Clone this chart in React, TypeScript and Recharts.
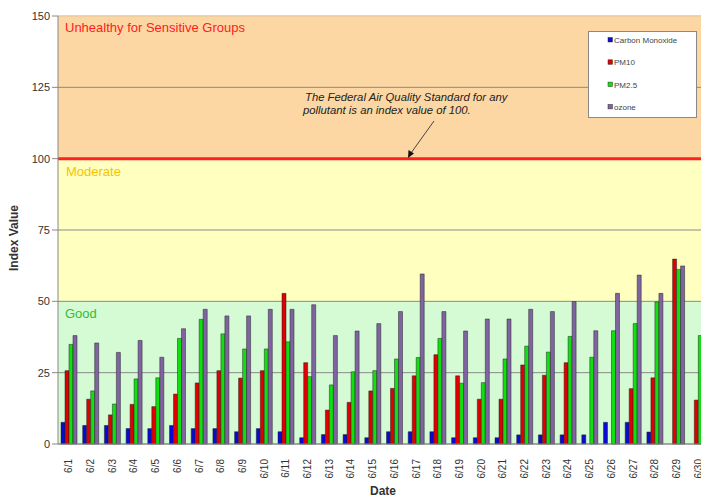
import React from 'react';
import { BarChart, Bar, XAxis, YAxis, ReferenceArea, ReferenceLine, CartesianGrid, Label } from 'recharts';

const dates = ['6/1','6/2','6/3','6/4','6/5','6/6','6/7','6/8','6/9','6/10','6/11','6/12','6/13','6/14','6/15','6/16','6/17','6/18','6/19','6/20','6/21','6/22','6/23','6/24','6/25','6/26','6/27','6/28','6/29','6/30'];
const carbonMonoxide = [7.6,6.5,6.5,5.4,5.4,6.5,5.4,5.4,4.3,5.4,4.3,2.2,3.3,3.3,2.2,4.3,4.3,4.3,2.2,2.2,2.2,3.2,3.2,3.2,3.2,7.6,7.6,4.2,null,null];
const pm10 = [25.7,15.7,10.2,13.9,13.1,17.5,21.4,25.7,23.1,25.7,52.8,28.5,11.9,14.6,18.6,19.5,23.9,31.3,23.9,15.7,15.7,27.7,24.1,28.5,null,null,19.4,23.2,64.8,15.4];
const pm25 = [34.9,18.6,14,22.8,23.2,37,43.7,38.6,33.3,33.3,35.8,23.6,20.7,25.3,25.7,29.8,30.3,37,21.3,21.5,29.8,34.3,32.2,37.7,30.4,39.7,42.2,49.8,61.2,38];
const ozone = [38,35.4,32.1,36.3,30.4,40.4,47.2,44.9,44.9,47.2,47.2,48.8,38,39.6,42.2,46.4,59.6,46.4,39.6,43.8,43.8,47.2,46.4,49.9,39.7,52.8,59.2,52.8,62.4,45];
const yTicks = [0,25,50,75,100,125,150];

const data = dates.map((d, i) => ({ date: d, co: carbonMonoxide[i], pm10: pm10[i], pm25: pm25[i], ozone: ozone[i] }));

const FONT = 'Arial, "Liberation Sans", sans-serif';

const series = [
  { key: 'co', name: 'Carbon Monoxide', color: '#0a0ad0' },
  { key: 'pm10', name: 'PM10', color: '#e00000' },
  { key: 'pm25', name: 'PM2.5', color: '#10e010' },
  { key: 'ozone', name: 'ozone', color: '#8064a2' },
];

const bandFills = ['#fdd7a3', '#fdd7a3', '#ffffc0', '#ffffc0', '#d4fbd4', '#d4fbd4'];

const XTick = (props: any) => {
  const { x, y, payload } = props;
  return (
    <text x={x + 3.5} y={y + 7} transform={`rotate(-90 ${x + 3.5} ${y + 7})`} textAnchor="end" fontSize={10} fontFamily={FONT} fill="#333">
      {payload.value}
    </text>
  );
};

export default function App() {
  return (
    <div style={{ position: 'absolute', left: 0, top: 0, width: 701, height: 498, overflow: 'hidden', background: '#fff' }}>
      <BarChart width={730} height={498} data={data} margin={{ top: 16, right: 21, left: 0, bottom: 0 }} barGap={0} barSize={4}>
        <CartesianGrid vertical={false} stroke="#8a8a8a" horizontalFill={bandFills} fillOpacity={1} />
        <XAxis dataKey="date" height={54} tick={<XTick />} tickLine={false} axisLine={{ stroke: '#888' }} interval={0} />
        <YAxis width={58} domain={[0, 150]} ticks={yTicks} tickSize={6} tickLine={{ stroke: '#888' }} axisLine={{ stroke: '#888' }} tick={{ fontSize: 11, fontFamily: FONT, fill: '#333' }} />
        {series.map((s) => (
          <Bar key={s.key} dataKey={s.key} name={s.name} fill={s.color} stroke="#222" strokeWidth={0.5} isAnimationActive={false} />
        ))}
        <ReferenceArea y1={0} y2={50} fill="none" fillOpacity={0} stroke="none">
          <Label value="Good" position="insideTopLeft" offset={7} fill="#33bb33" fontSize={13} fontFamily={FONT} />
        </ReferenceArea>
        <ReferenceArea y1={50} y2={100} fill="none" fillOpacity={0} stroke="none">
          <Label value="Moderate" position="insideTopLeft" offset={8} fill="#f5c400" fontSize={13} fontFamily={FONT} />
        </ReferenceArea>
        <ReferenceArea y1={100} y2={150} fill="none" fillOpacity={0} stroke="none">
          <Label value="Unhealthy for Sensitive Groups" position="insideTopLeft" offset={7} fill="#ff2020" fontSize={13} fontFamily={FONT} />
        </ReferenceArea>
        <ReferenceLine y={150} stroke="#fdd7a3" strokeWidth={1.5} />
        <ReferenceLine y={100} stroke="#ff2020" strokeWidth={3} />
      </BarChart>
      <svg width={701} height={498} style={{ position: 'absolute', left: 0, top: 0, pointerEvents: 'none' }}>
        <text x={18} y={238} transform="rotate(-90 18 238)" textAnchor="middle" fontSize={12} fontWeight="bold" fontFamily={FONT} fill="#333">Index Value</text>
        <text x={383} y={495} textAnchor="middle" fontSize={12} fontWeight="bold" fontFamily={FONT} fill="#333">Date</text>
        <text x={305} y={101} fontSize={11.3} fontStyle="italic" fontFamily={FONT} fill="#222">The Federal Air Quality Standard for any</text>
        <text x={303} y={114} fontSize={11.3} fontStyle="italic" fontFamily={FONT} fill="#222">pollutant is an index value of 100.</text>
        <line x1={434} y1={121} x2={411} y2={153} stroke="#444" strokeWidth={1} />
        <polygon points="408,158 408.5,150 414,153.5" fill="#111" />
        <rect x={588.5} y={31.5} width={108} height={86} fill="#fff" stroke="#888" />
        {series.map((s, i) => (
          <g key={s.key}>
            <rect x={608} y={37.5 + i * 22.3} width={4.5} height={4.5} fill={s.color} stroke="#333" strokeWidth={0.5} />
            <text x={614} y={43 + i * 22.3} fontSize={8} fontFamily={FONT} fill="#444">{s.name}</text>
          </g>
        ))}
      </svg>
    </div>
  );
}
